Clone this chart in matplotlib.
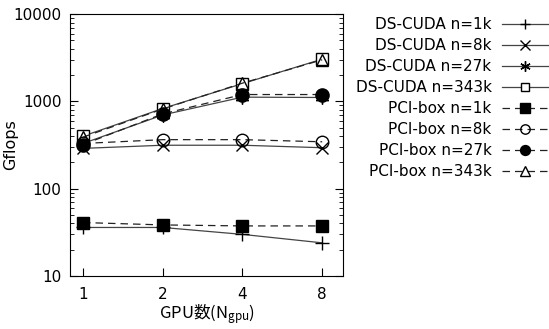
import matplotlib
matplotlib.use('Agg')
import matplotlib.pyplot as plt
from matplotlib.ticker import FixedLocator, NullFormatter, LogLocator

plt.rcParams['font.family'] = ['DejaVu Sans', 'Noto Sans CJK JP']

# GPU数
n_gpu = [1, 2, 4, 8]

# DS-CUDA (実線)
ds_1k = [36, 36, 30, 24]
ds_8k = [290, 315, 315, 295]
ds_27k = [330, 700, 1120, 1110]
ds_343k = [400, 830, 1600, 3050]

# PCI-box (破線)
pci_1k = [41, 38.5, 37.5, 37.5]
pci_8k = [330, 365, 365, 345]
pci_27k = [320, 720, 1200, 1200]
pci_343k = [390, 820, 1620, 3000]

labels = ['DS-CUDA n=1k', 'DS-CUDA n=8k', 'DS-CUDA n=27k', 'DS-CUDA n=343k',
          'PCI-box n=1k', 'PCI-box n=8k', 'PCI-box n=27k', 'PCI-box n=343k']

fig = plt.figure(figsize=(5.49, 3.29), dpi=100)
ax = fig.add_axes([0.1275, 0.161, 0.4975, 0.796])

solid = dict(color='#444444', linestyle='-', linewidth=0.9)
dashed = dict(color='#222222', linestyle=(0, (6, 4)), linewidth=0.9)

ax.plot(n_gpu, ds_1k, marker='+', markersize=10, mec='black', mfc='none', label=labels[0], **solid)
ax.plot(n_gpu, ds_8k, marker='x', markersize=9, mec='black', mfc='none', label=labels[1], **solid)
ax.plot(n_gpu, ds_27k, marker=(6, 2, 0), markersize=10, mec='black', mfc='none', label=labels[2], **solid)
ax.plot(n_gpu, ds_343k, marker='s', markersize=8.5, mec='black', mfc='white', label=labels[3], **solid)
ax.plot(n_gpu, pci_1k, marker='s', markersize=9, mec='black', mfc='black', label=labels[4], **dashed)
ax.plot(n_gpu, pci_8k, marker='o', markersize=9, mec='black', mfc='none', label=labels[5], **dashed)
ax.plot(n_gpu, pci_27k, marker='o', markersize=9.5, mec='black', mfc='black', label=labels[6], **dashed)
ax.plot(n_gpu, pci_343k, marker='^', markersize=9, mec='black', mfc='none', label=labels[7], **dashed)

ax.set_xscale('log')
ax.set_yscale('log')
ax.set_xlim(0.893, 9.6)
ax.set_ylim(10, 10000)
ax.xaxis.set_major_locator(FixedLocator(n_gpu))
ax.xaxis.set_minor_locator(FixedLocator([]))
ax.set_xticklabels([str(v) for v in n_gpu])
ax.yaxis.set_major_locator(FixedLocator([10, 100, 1000, 10000]))
ax.set_yticklabels(['10', '100', '1000', '10000'])
ax.yaxis.set_minor_locator(LogLocator(base=10, subs=range(2, 10)))
ax.yaxis.set_minor_formatter(NullFormatter())
ax.tick_params(which='both', direction='in', right=True, labelsize=11)
ax.tick_params(which='major', length=6, pad=6)
ax.tick_params(axis='x', which='major', pad=8)
ax.tick_params(which='minor', length=3)

ax.set_ylabel('Gflops', fontsize=11.5)
ax.yaxis.set_label_coords(-0.19, 0.5)
ax.set_xlabel('GPU数($\\mathregular{N_{gpu}}$)', fontsize=12, family='Noto Sans CJK JP', labelpad=0)

fig.legend(loc='upper right', bbox_to_anchor=(1.015, 0.975), frameon=False, markerfirst=False,
           fontsize=11, handlelength=3.0, handletextpad=0.7, labelspacing=0.39,
           borderaxespad=0.2, markerscale=0.75)

fig.savefig('out.png', dpi=100)
